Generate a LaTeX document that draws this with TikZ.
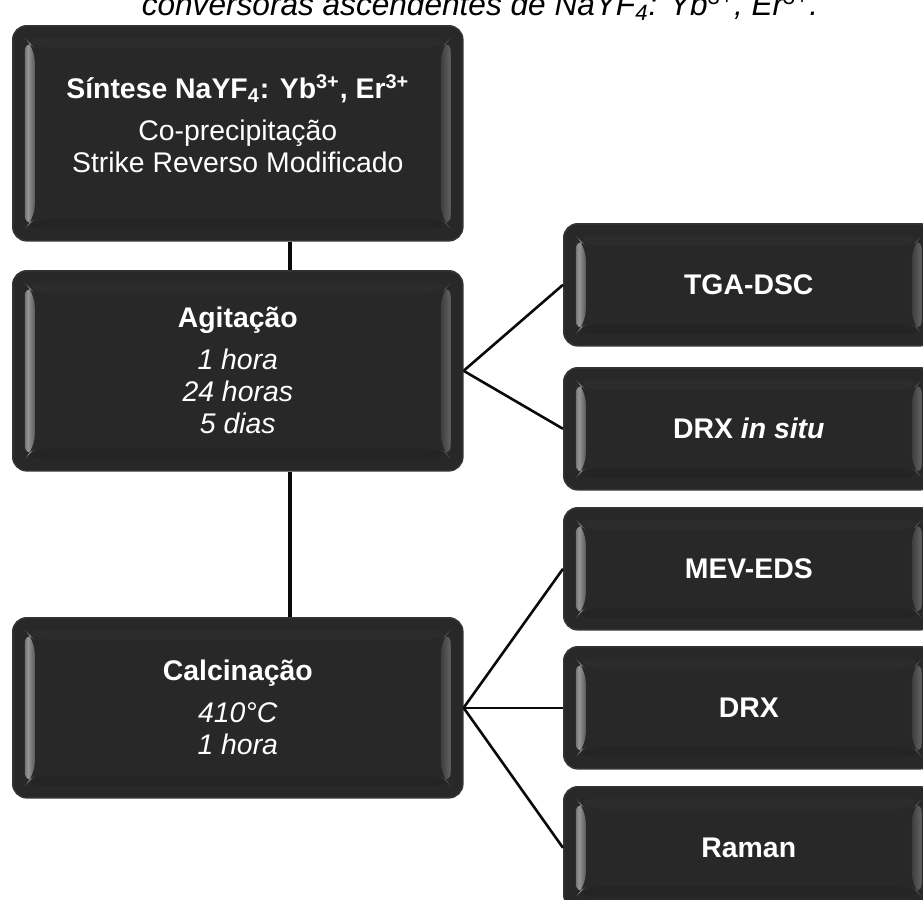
\documentclass[tikz,border=0pt]{standalone}
\usepackage{fontspec}
\setmainfont{Liberation Sans}
\usetikzlibrary{calc}

\definecolor{boxbody}{RGB}{40,40,40}
\definecolor{boxedge}{RGB}{52,52,52}
\definecolor{bevtop}{RGB}{44,44,44}
\definecolor{bevbot}{RGB}{36,36,36}
\definecolor{bevLa}{RGB}{62,62,62}
\definecolor{bevLb}{RGB}{150,150,150}
\definecolor{bevLc}{RGB}{48,48,48}
\definecolor{bevRa}{RGB}{42,42,42}
\definecolor{bevRb}{RGB}{92,92,92}
\definecolor{bevRc}{RGB}{56,56,56}
\definecolor{linkcol}{RGB}{10,10,10}

% light bands of the soft bevel on the left and right sides
\pgfdeclarehorizontalshading{bevelleft}{100bp}{color(0bp)=(bevLa); color(40bp)=(bevLb); color(100bp)=(bevLc)}
\pgfdeclarehorizontalshading{bevelright}{100bp}{color(0bp)=(bevRa); color(65bp)=(bevRb); color(100bp)=(bevRc)}

\tikzset{
  bevel/.style={path picture={
    \coordinate (pA) at (path picture bounding box.south west);
    \coordinate (pB) at (path picture bounding box.north east);
    \coordinate (pC) at (pA |- pB);
    \coordinate (pD) at (pB |- pA);
    % top and bottom bands
    \fill[bevtop] ($(pC)+(6pt,-6pt)$) -- ($(pB)+(-6pt,-6pt)$) -- ($(pB)+(-11pt,-11pt)$) -- ($(pC)+(11pt,-11pt)$) -- cycle;
    \fill[bevbot] ($(pA)+(6pt,6pt)$) -- ($(pD)+(-6pt,6pt)$) -- ($(pD)+(-11pt,11pt)$) -- ($(pA)+(11pt,11pt)$) -- cycle;
    % left and right bands
    \shade[shading=bevelleft] ($(pC)+(6pt,-6pt)$) -- ($(pC)+(11pt,-11pt)$) -- ($(pA)+(11pt,11pt)$) -- ($(pA)+(6pt,6pt)$) -- cycle;
    \shade[shading=bevelright] ($(pB)+(-11pt,-11pt)$) -- ($(pB)+(-6pt,-6pt)$) -- ($(pD)+(-6pt,6pt)$) -- ($(pD)+(-11pt,11pt)$) -- cycle;
  }},
  stagebox/.style={draw=boxedge, line width=0.8pt, fill=boxbody, rounded corners=7pt,
    text=white, align=center, inner sep=0pt, anchor=north west, bevel,
    font=\fontsize{14.2pt}{16pt}\selectfont},
  bigbox/.style={stagebox, minimum width=225pt},
  testbox/.style={stagebox, minimum width=185pt, minimum height=61pt, font=\fontsize{14.2pt}{16pt}\selectfont\bfseries},
  trunkline/.style={draw=linkcol, line width=2pt},
  branchline/.style={draw=linkcol, line width=1.3pt},
}

\begin{document}
\begin{tikzpicture}[x=0.5pt, y=-0.5pt]
  \useasboundingbox (0,0) rectangle (923,900);
  \clip (0,0) rectangle (923,900);

  % caption line running in from above
  \node[anchor=base, inner sep=0pt, text=black, font=\fontsize{15.8pt}{18pt}\selectfont\itshape]
    (caption) at (480,15) {conversoras ascendentes de NaYF\textsubscript{4}: Yb\textsuperscript{3+}, Er\textsuperscript{3+}.};

  % main stages
  \node[bigbox, minimum height=107.5pt] (synth) at (12,25)
    {\textbf{Síntese NaYF\textsubscript{4}: Yb\textsuperscript{3+}, Er\textsuperscript{3+}}\\[5pt]
     Co-precipitação\\ Strike Reverso Modificado\\[-6pt]\mbox{}};
  \node[bigbox, minimum height=100pt] (stir) at (12,270)
    {\textbf{Agitação}\\[5pt] \textit{1 hora}\\ \textit{24 horas}\\ \textit{5 dias}};
  \node[bigbox, minimum height=90pt] (calc) at (12,617)
    {\textbf{Calcinação}\\[5pt] \textit{410°C}\\ \textit{1 hora}};

  % characterisation techniques
  \node[testbox] (tga)   at (563,223) {TGA-DSC};
  \node[testbox] (drxis) at (563,367) {DRX \textit{in situ}};
  \node[testbox] (mev)   at (563,507) {MEV-EDS};
  \node[testbox] (drx)   at (563,646) {DRX};
  \node[testbox] (raman) at (563,786) {Raman};

  % connectors
  \coordinate (trunk) at (290,0);
  \draw[trunkline] (trunk |- synth.south) -- (trunk |- stir.north);
  \draw[trunkline] (trunk |- stir.south) -- (trunk |- calc.north);

  \draw[branchline] (stir.east) -- (tga.west);
  \draw[branchline] (stir.east) -- (drxis.west);
  \draw[branchline] (calc.east) -- (mev.west);
  \draw[branchline] (calc.east) -- (drx.west);
  \draw[branchline] (calc.east) -- (raman.west);
\end{tikzpicture}
\end{document}
